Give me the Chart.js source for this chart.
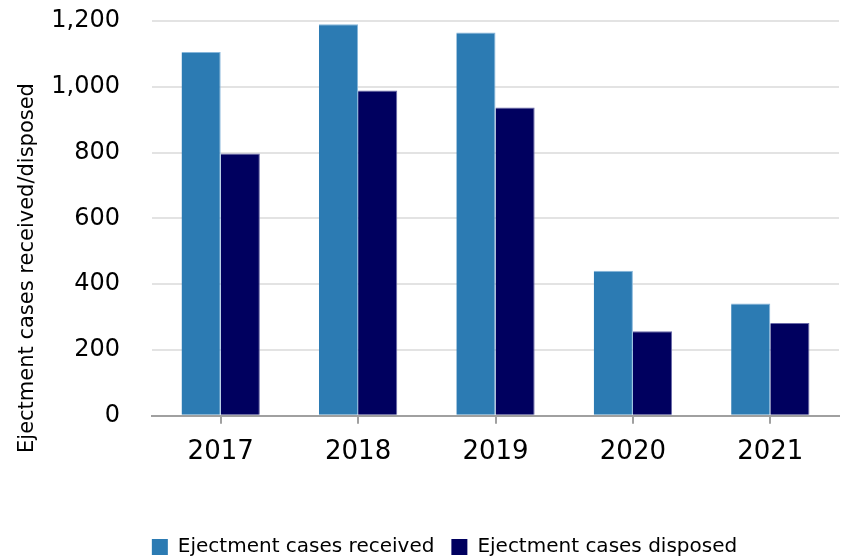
<!DOCTYPE html>
<html>
<head>
<meta charset="utf-8">
<script src="https://cdn.jsdelivr.net/npm/chart.js@4/dist/chart.umd.min.js"></script>
<style>
    html, body { margin: 0; padding: 0; background: #fff; }
    #wrap { width: 846px; height: 557px; }
</style>
</head>
<body>
<div id="wrap"><canvas id="grafico"></canvas></div>
<script>
const anos = ["2017", "2018", "2019", "2020", "2021"];
const recebidos = [1106, 1190, 1165, 441, 341];
const resolvidos = [797, 989, 937, 257, 282];
const ticksY = [0, 200, 400, 600, 800, 1000, 1200];
const tituloY = "Ejectment cases received/disposed";

const fonte = "'DejaVu Sans', sans-serif";
const margemEsq = 50; // empurra a legenda para a direita como no original

// titulo do eixo Y desenhado a mao, fica um pouco abaixo do centro no original
const tituloEixo = {
    id: "tituloEixo",
    afterDraw(chart) {
        const ctx = chart.ctx;
        ctx.save();
        ctx.translate(28, 268);
        ctx.rotate(-Math.PI / 2);
        ctx.font = "21px " + fonte;
        ctx.fillStyle = "#000";
        ctx.textAlign = "center";
        ctx.textBaseline = "middle";
        ctx.fillText(tituloY, 0, 0);
        ctx.restore();
    }
};

// legenda mais baixa: tira altura da caixa da legenda
const legendaBaixa = {
    id: "legendaBaixa",
    beforeInit(chart) {
        const fitOriginal = chart.legend.fit;
        chart.legend.fit = function () {
            fitOriginal.call(this);
            this.height -= 10;
        };
    }
};

new Chart(document.getElementById("grafico"), {
    type: "bar",
    data: {
        labels: anos,
        datasets: [{
            label: "Ejectment cases received",
            data: recebidos,
            backgroundColor: "#2c7bb3",
            borderColor: "#86b6da",
            borderWidth: { top: 1, right: 1, left: 0, bottom: 0 },
            categoryPercentage: 0.57,
            barPercentage: 1
        }, {
            label: "Ejectment cases disposed",
            data: resolvidos,
            backgroundColor: "#00005f",
            borderColor: "#6a6aa8",
            borderWidth: { top: 1, right: 1, left: 0, bottom: 0 },
            categoryPercentage: 0.57,
            barPercentage: 1
        }]
    },
    plugins: [tituloEixo, legendaBaixa],
    options: {
        responsive: true,
        maintainAspectRatio: false,
        animation: false,
        layout: { padding: { top: 21, right: 7, left: margemEsq, bottom: 0 } },
        plugins: {
            tooltip: { enabled: false },
            legend: {
                position: "bottom",
                labels: {
                    color: "#000",
                    font: { family: fonte, size: 20 },
                    boxWidth: 16,
                    boxHeight: 16,
                    padding: 17,
                    generateLabels: (chart) => chart.data.datasets.map((ds, i) => ({
                        text: ds.label,
                        fillStyle: ds.backgroundColor,
                        strokeStyle: ds.backgroundColor,
                        lineWidth: 0,
                        fontColor: "#000",
                        datasetIndex: i
                    }))
                }
            }
        },
        scales: {
            x: {
                grid: {
                    offset: false,
                    drawOnChartArea: false,
                    color: "#a0a0a0",
                    lineWidth: 2,
                    tickLength: 8
                },
                border: { color: "#a0a0a0", width: 2 },
                ticks: {
                    color: "#000",
                    font: { family: fonte, size: 26 },
                    padding: 13
                },
                afterFit: (scale) => { scale.height += 39; }
            },
            y: {
                min: 0,
                max: 1200,
                afterBuildTicks: (scale) => {
                    scale.ticks = ticksY.map(v => ({ value: v }));
                },
                afterFit: (scale) => { scale.width = 152 - margemEsq; },
                grid: {
                    color: "#e3e3e3",
                    lineWidth: 2,
                    tickLength: 32,
                    tickColor: "rgba(0,0,0,0)"
                },
                border: { display: false },
                ticks: {
                    color: "#000",
                    font: { family: fonte, size: 24 },
                    padding: 0,
                    callback: (v) => v.toLocaleString("en-US")
                }
            }
        }
    }
});
</script>
</body>
</html>
